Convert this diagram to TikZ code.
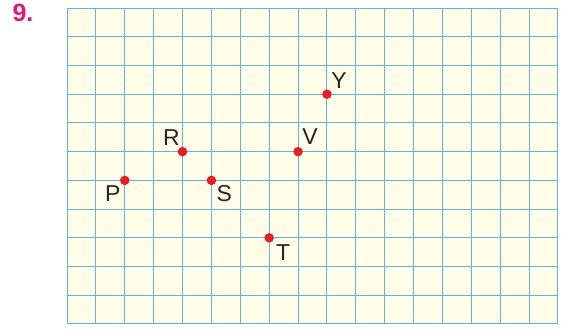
\documentclass[tikz,border=0pt]{standalone}
\usepackage{fontspec}
\setmainfont{Liberation Sans}
\definecolor{gridblue}{RGB}{96,180,228}
\definecolor{paper}{RGB}{255,252,232}
\definecolor{dotred}{RGB}{232,28,36}
\definecolor{numpink}{RGB}{230,20,130}
\begin{document}
\begin{tikzpicture}[x=1pt,y=-1pt,
  gridline/.style={gridblue,line width=1.4pt},
  dot/.style={circle,fill=dotred,inner sep=0pt,minimum size=9.5pt},
  lbl/.style={font=\fontsize{23}{23}\selectfont,text=black!85,inner sep=0pt}]
\useasboundingbox (0,0) rectangle (562,331);
\def\cx{28.88}
\def\cy{28.73}
\fill[paper] (67.5,8.5) rectangle (557.5,323.5);
\foreach \i in {1,...,16} {
  \pgfmathsetmacro{\xx}{floor(67+\i*\cx)+0.5}
  \draw[gridline] (\xx,8.5) -- (\xx,323.5);
}
\foreach \j in {1,...,10} {
  \pgfmathsetmacro{\yy}{floor(8+\j*\cy)+0.5}
  \draw[gridline] (67.5,\yy) -- (557.5,\yy);
}
\draw[gridline] (67.5,8.5) rectangle (557.5,323.5);
\node[text=numpink,font=\bfseries\fontsize{25}{25}\selectfont,inner sep=0pt] (num) at (23,13) {9.};
\node[dot] (P) at (67+2*\cx,8+6*\cy) {};
\node[dot] (R) at (67+4*\cx,8+5*\cy) {};
\node[dot] (S) at (67+5*\cx,8+6*\cy) {};
\node[dot] (V) at (67+8*\cx,8+5*\cy) {};
\node[dot] (Y) at (67+9*\cx,8+3*\cy) {};
\node[dot] (T) at (67+7*\cx,8+8*\cy) {};
\node[lbl] (Pl) at ([shift={(-12,13)}]P) {P};
\node[lbl] (Rl) at ([shift={(-11,-14)}]R) {R};
\node[lbl] (Sl) at ([shift={(13,13)}]S) {S};
\node[lbl] (Vl) at ([shift={(12,-15)}]V) {V};
\node[lbl] (Yl) at ([shift={(12,-14)}]Y) {Y};
\node[lbl] (Tl) at ([shift={(14,15)}]T) {T};
\end{tikzpicture}
\end{document}
